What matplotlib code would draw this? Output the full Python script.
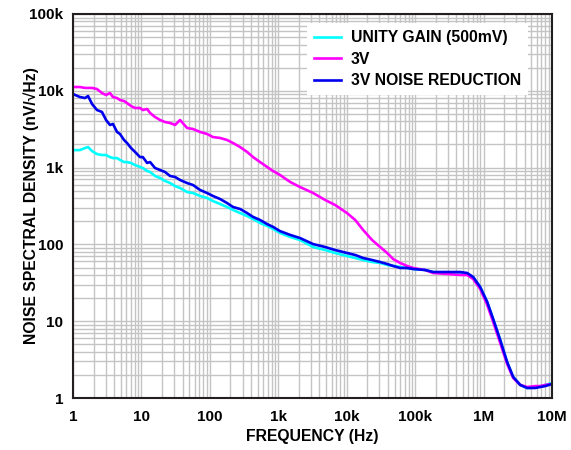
import matplotlib
matplotlib.use("Agg")
import matplotlib.pyplot as plt
from matplotlib.ticker import LogLocator, FixedLocator, FixedFormatter, NullFormatter

plt.rcParams['font.family'] = ['Liberation Sans', 'DejaVu Sans']
plt.rcParams['font.weight'] = 'bold'

freq = [1, 1.26, 1.5, 1.66, 1.9, 2.24, 2.65, 3.04, 3.47, 3.84, 4.4, 4.86, 5.57, 6.16,
        7.05, 8.06, 9.54, 10.5, 12.1, 13.4, 15.8, 18.7, 22.1, 26.2, 31, 36.7, 46.4,
        56.8, 71.9, 91, 111, 141, 178, 218, 277, 350, 428, 542, 686, 839, 1060, 1490,
        2080, 3230, 4830, 6770, 10100, 13300, 17400, 23500, 30800, 39000, 47700,
        60400, 76400, 93500, 140e3, 183e3, 294e3, 455e3, 576e3, 705e3, 892e3,
        1.13e6, 1.38e6, 1.75e6, 2.21e6, 2.71e6, 3.43e6, 4.34e6, 5.68e6, 6.72e6,
        7.96e6, 1e7]

unity_gain = [1690, 1690, 1800, 1850, 1640, 1500, 1460, 1460, 1370, 1330, 1330, 1260,
              1180, 1180, 1150, 1080, 1020, 988, 903, 877, 778, 732, 670, 630, 575, 542,
              481, 467, 427, 402, 367, 336, 307, 281, 256, 234, 214, 190, 174, 159, 141,
              125, 114, 92.5, 84.5, 77.3, 70.6, 66.5, 62.6, 59, 57.3, 54, 52.4, 50.8,
              49.3, 47.8, 46.4, 43.7, 42.4, 42.4, 41.2, 37.6, 27.9, 17.8, 10.7, 5.7,
              2.94, 1.88, 1.48, 1.35, 1.37, 1.42, 1.48, 1.57]

v3 = [11200, 11200, 10900, 10900, 10900, 10550, 9350, 8820, 9350, 8300, 8050, 7590,
      7360, 6930, 6340, 5970, 5970, 5620, 5800, 5140, 4560, 4170, 3920, 3810, 3590,
      4170, 3280, 3180, 2910, 2740, 2500, 2430, 2290, 2090, 1850, 1600, 1370, 1180,
      1020, 903, 801, 650, 558, 467, 379, 326, 256, 208, 154, 114, 92.5, 77.3, 64.5,
      57.3, 52.4, 49.3, 46.4, 42.4, 41.2, 40, 40, 35.4, 26.3, 16.3, 9.8, 5.2, 2.77,
      1.82, 1.48, 1.39, 1.43, 1.43, 1.48, 1.52]

v3_noise_red = [9080, 8300, 8050, 8550, 6730, 5620, 5300, 4170, 3590, 3700, 2910, 2740,
                2290, 2090, 1800, 1600, 1370, 1370, 1150, 1180, 988, 930, 877, 778, 755,
                690, 630, 593, 511, 467, 427, 390, 346, 307, 289, 256, 228, 208, 184,
                169, 149, 133, 121, 101, 92.5, 84.5, 77.3, 72.8, 66.5, 62.6, 59, 55.6,
                52.4, 49.3, 49.3, 47.8, 46.4, 43.7, 43.7, 43.7, 42.4, 37.6, 27.9, 17.8,
                10.7, 5.7, 2.94, 1.88, 1.48, 1.35, 1.35, 1.39, 1.43, 1.52]

series_labels = ["UNITY GAIN (500mV)", "3V", "3V NOISE REDUCTION"]
series_colors = ["#00ffff", "#ff00ff", "#0000ee"]

x_ticks = [1, 10, 100, 1e3, 1e4, 1e5, 1e6, 1e7]
x_tick_labels = ["1", "10", "100", "1k", "10k", "100k", "1M", "10M"]
y_ticks = [1, 10, 100, 1e3, 1e4, 1e5]
y_tick_labels = ["1", "10", "100", "1k", "10k", "100k"]

fig = plt.figure(figsize=(5.71, 4.5), dpi=100)
ax = fig.add_axes([73/571, 1-398/450, (552-73)/571, (398-14)/450])

for vals, lab, col in zip([unity_gain, v3, v3_noise_red], series_labels, series_colors):
    ax.plot(freq, vals, color=col, lw=1.9, label=lab, solid_joinstyle='round')

ax.set_xscale('log')
ax.set_yscale('log')
ax.set_xlim(1, 1e7)
ax.set_ylim(1, 1e5)

ax.xaxis.set_major_locator(FixedLocator(x_ticks))
ax.xaxis.set_major_formatter(FixedFormatter(x_tick_labels))
ax.yaxis.set_major_locator(FixedLocator(y_ticks))
ax.yaxis.set_major_formatter(FixedFormatter(y_tick_labels))
ax.xaxis.set_minor_locator(LogLocator(base=10, subs=range(2, 10), numticks=20))
ax.yaxis.set_minor_locator(LogLocator(base=10, subs=range(2, 10), numticks=20))
ax.xaxis.set_minor_formatter(NullFormatter())
ax.yaxis.set_minor_formatter(NullFormatter())

ax.grid(which='both', color='#c4c4c4', lw=1.0)
ax.set_axisbelow(True)
ax.tick_params(which='both', length=0)
ax.tick_params(axis='x', pad=8.5, labelsize=11)
ax.tick_params(axis='y', pad=7, labelsize=11)
for lbl in ax.get_xticklabels() + ax.get_yticklabels():
    lbl.set_fontweight('bold')

for sp in ax.spines.values():
    sp.set_color('#231f20')
    sp.set_linewidth(1.5)

ax.set_xlabel("FREQUENCY (Hz)", fontsize=11.3, fontweight='bold')
ax.set_ylabel("NOISE SPECTRAL DENSITY (nV/\u221aHz)", fontsize=11.3, fontweight='bold')
ax.xaxis.set_label_coords(0.5, -(429 - 398) / 384)
ax.yaxis.set_label_coords(-(73 - 39) / 479, 0.5)

leg = ax.legend(loc='upper left', bbox_to_anchor=((307 - 73) / 479, (398 - 23) / 384),
                borderaxespad=0, prop={'size': 11.3, 'weight': 'bold'}, frameon=True,
                fancybox=False, framealpha=1, edgecolor='white', handlelength=1.7,
                handletextpad=0.65, labelspacing=0.42, borderpad=0.45)
leg.get_frame().set_linewidth(0)

fig.savefig("out.png", dpi=100)
